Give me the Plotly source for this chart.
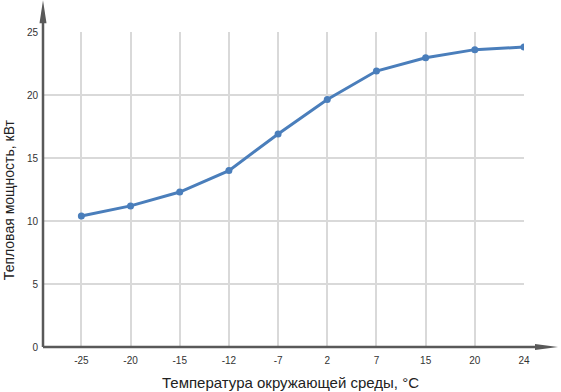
import plotly.graph_objects as go

# ---- data ----
categories = ["-25", "-20", "-15", "-12", "-7", "2", "7", "15", "20", "24"]
power_kw = [10.4, 11.2, 12.3, 14.0, 16.9, 19.65, 21.9, 22.95, 23.6, 23.8]
y_ticks = [0, 5, 10, 15, 20, 25]
x_title = "Температура окружающей среды, °C"
y_title = "Тепловая мощность, кВт"

# ---- layout geometry (pixels) ----
W, H = 561, 392
ML, MR, MT, MB = 43, 37, 31.7, 45
PW = W - ML - MR
PH = H - MT - MB

def px_x(p):
    return (p - ML) / PW

def px_y(p):
    return (H - MB - p) / PH

AX = "#595959"
GRID = "#d9d9d9"
FONT = "Liberation Sans, Arial, sans-serif"

fig = go.Figure()
fig.add_trace(go.Scatter(
    x=categories, y=power_kw, mode="lines+markers",
    line=dict(color="#4a7ebb", width=3),
    marker=dict(color="#4a7ebb", size=7),
    hoverinfo="skip", showlegend=False,
))

shapes = [
    # y axis line
    dict(type="line", xref="paper", yref="paper", x0=0, x1=0, y0=0, y1=px_y(20),
         line=dict(color=AX, width=2.5)),
    # y arrow head
    dict(type="path", xref="paper", yref="paper",
         path=f"M {px_x(43)} {px_y(0)} L {px_x(46.5)} {px_y(23)} L {px_x(39.5)} {px_y(23)} Z",
         fillcolor=AX, line=dict(color=AX, width=0)),
    # x axis line
    dict(type="line", xref="paper", yref="paper", x0=0, x1=px_x(538), y0=0, y1=0,
         line=dict(color=AX, width=2.5)),
    # x arrow head
    dict(type="path", xref="paper", yref="paper",
         path=f"M {px_x(558)} {px_y(347)} L {px_x(535)} {px_y(344)} L {px_x(535)} {px_y(350)} Z",
         fillcolor=AX, line=dict(color=AX, width=0)),
]

fig.update_layout(
    width=W, height=H,
    margin=dict(l=ML, r=MR, t=MT, b=MB, pad=0),
    paper_bgcolor="white", plot_bgcolor="white",
    font=dict(family=FONT, color="#333333", size=10),
    xaxis=dict(type="category", range=[-0.78, 9], showgrid=True, gridcolor=GRID,
               gridwidth=1.5, showline=False, zeroline=False, ticks="",
               ticklabelstandoff=6,
               tickfont=dict(size=10, color="#333333"), fixedrange=True),
    yaxis=dict(range=[0, 25], tickvals=y_ticks, showgrid=True, gridcolor=GRID,
               gridwidth=1.5, showline=False, zeroline=False, ticks="",
               ticklabelstandoff=4,
               tickfont=dict(size=10, color="#333333"), fixedrange=True),
    shapes=shapes,
    annotations=[
        dict(text=x_title, xref="paper", yref="paper", x=px_x(290), y=px_y(383),
             xanchor="center", yanchor="middle", showarrow=False,
             font=dict(size=15, color="#222222", family=FONT)),
        dict(text=y_title, xref="paper", yref="paper", x=px_x(9), y=px_y(200),
             xanchor="center", yanchor="middle", showarrow=False, textangle=-90,
             font=dict(size=14, color="#222222", family=FONT)),
    ],
)

fig.write_html("out.html")
